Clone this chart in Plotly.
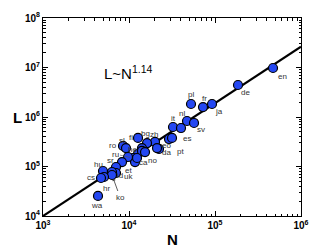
import numpy as np
import plotly.graph_objects as go

# ---- data ----
languages = ["en", "de", "ja", "fr", "pl", "nl", "sv", "it", "es", "da", "pt",
             "eo", "zh", "", "bg", "fi", "ro", "sl", "he", "", "", "no",
             "ru", "ca", "", "", "sr", "et", "uk", "id", "ko", "hu", "hr", "cs", "wa"]
N_values = [472600, 185100, 92300, 72530, 52600, 47250, 57000, 32480, 40240, 29180, 31620,
            22320, 20060, 21170, 16200, 12730, 8516, 9229, 12730, 14160, 14160, 15350,
            11130, 11750, 12390, 9736, 8290, 7060, 7060, 6343, 6343, 4985, 5120, 4725, 4361]
L_values = [9.77e6, 4.43e6, 1.83e6, 1.59e6, 1.83e6, 8.30e5, 7.57e5, 6.28e5, 5.99e5, 3.59e5, 3.77e5,
            2.26e5, 3.13e5, 2.36e5, 2.98e5, 3.77e5, 2.60e5, 2.36e5, 1.79e5, 2.36e5, 2.06e5, 1.96e5,
            1.485e5, 1.23e5, 1.485e5, 1.556e5, 1.23e5, 9.77e4, 7.39e4, 7.74e4, 6.73e4, 8.11e4, 6.14e4, 5.86e4, 2.54e4]

fit_prefactor = 3.80
fit_exponent = 1.14
fit_N = [1e3, 1e6]

x_tickvals = [1e3, 1e4, 1e5, 1e6]
x_ticktext = ["<b>10<sup>3</sup></b>", "<b>10<sup>4</sup></b>", "<b>10<sup>5</sup></b>", "<b>10<sup>6</sup></b>"]
y_tickvals = [1e4, 1e5, 1e6, 1e7, 1e8]
y_ticktext = ["<b>10<sup>4</sup></b>", "<b>10<sup>5</sup></b>", "<b>10<sup>6</sup></b>",
              "<b>10<sup>7</sup></b>", "<b>10<sup>8</sup></b>"]

# ---- label placement (pixel offsets, style only) ----
label_offsets = {
    "en": (9, 8), "de": (7, 7), "ja": (7, 7), "fr": (1, -9), "pl": (0, -10),
    "nl": (-5, -8), "sv": (7, 7), "it": (0, -9), "es": (6, 10), "da": (-3, 13),
    "pt": (8, 14), "eo": (8, -3), "zh": (-1, -7), "bg": (-2, -10), "fi": (-7, 0),
    "ro": (-10, 0), "sl": (-4, -8), "he": (-6, -4), "no": (7, 8), "ca": (8, 0),
    "sr": (-12, -2), "et": (12, 3), "uk": (12, 3), "id": (8, 3), "hu": (-5, -7),
    "hr": (2, 12), "cs": (-10, 0), "wa": (-1, 10),
}

FONT = "Arial, Liberation Sans, Helvetica, sans-serif"

fig = go.Figure()

fit_L = [fit_prefactor * n ** fit_exponent for n in fit_N]
fig.add_trace(go.Scatter(x=fit_N, y=fit_L, mode="lines",
                         line=dict(color="black", width=2.2), hoverinfo="skip"))
fig.add_trace(go.Scatter(x=N_values, y=L_values, mode="markers",
                         marker=dict(size=9, color="#2447f2", line=dict(color="black", width=1.2))))

annotations = []
for lab, n, l in zip(languages, N_values, L_values):
    if lab in label_offsets:
        dx, dy = label_offsets[lab]
        annotations.append(dict(x=np.log10(n), y=np.log10(l), xref="x", yref="y", text=lab,
                                showarrow=False, xshift=dx, yshift=-dy,
                                font=dict(family=FONT, size=8, color="#333333")))
    elif lab == "ru":
        annotations.append(dict(x=np.log10(n), y=np.log10(l), xref="x", yref="y", text=lab,
                                showarrow=True, ax=-18, ay=-4, arrowhead=0, arrowwidth=0.6,
                                arrowcolor="#555555", standoff=3,
                                font=dict(family=FONT, size=8, color="#333333")))
    elif lab == "ko":
        annotations.append(dict(x=np.log10(n), y=np.log10(l), xref="x", yref="y", text=lab,
                                showarrow=True, ax=8, ay=22, arrowhead=1, arrowsize=0.8,
                                arrowwidth=0.8, arrowcolor="#333333", standoff=4,
                                font=dict(family=FONT, size=8, color="#333333")))

annotations.append(dict(x=(102 - 43) / 258, y=(216 - 72) / 198, xref="paper", yref="paper",
                        xanchor="left", yanchor="middle",
                        text="L~N<sup>1.14</sup>", showarrow=False,
                        font=dict(family=FONT, size=15, color="black")))
annotations.append(dict(x=0.5, y=-(240 - 216) / 198, xref="paper", yref="paper",
                        xanchor="center", yanchor="middle",
                        text="<b>N</b>", showarrow=False,
                        font=dict(family=FONT, size=15, color="black")))
annotations.append(dict(x=(17.5 - 43) / 258, y=(216 - 118) / 198, xref="paper", yref="paper",
                        xanchor="center", yanchor="middle",
                        text="<b>L</b>", showarrow=False,
                        font=dict(family=FONT, size=15, color="black")))

axis_common = dict(type="log", showgrid=False, zeroline=False, showline=True,
                   linecolor="black", linewidth=1, mirror="ticks", ticks="inside",
                   ticklen=5, tickwidth=1, tickcolor="black",
                   tickfont=dict(family=FONT, size=10, color="black"),
                   minor=dict(ticks="inside", ticklen=2.5, tickwidth=0.8,
                              tickcolor="black", dtick="D1", showgrid=False))

fig.update_xaxes(range=[3, 6], tickvals=x_tickvals, ticktext=x_ticktext, **axis_common)
fig.update_yaxes(range=[4, 8], tickvals=y_tickvals, ticktext=y_ticktext, **axis_common)

fig.update_layout(width=332, height=250, margin=dict(l=43, r=31, t=18, b=34),
                  paper_bgcolor="white", plot_bgcolor="white", showlegend=False,
                  annotations=annotations, font=dict(family=FONT))

fig.write_html("out.html", config={"displayModeBar": False},
               post_script="document.body.style.margin='0px';document.body.style.overflow='hidden';")
